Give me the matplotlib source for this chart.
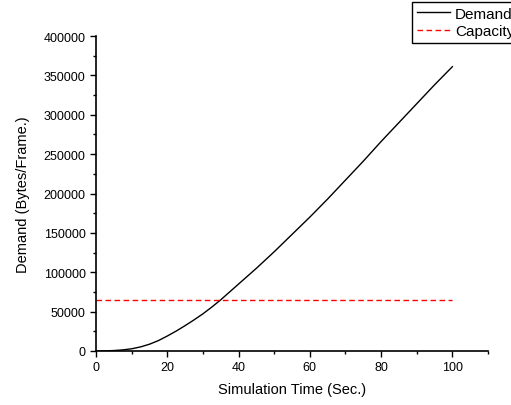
import matplotlib
matplotlib.use('Agg')
import matplotlib.pyplot as plt
from matplotlib.ticker import MultipleLocator

plt.rcParams['font.family'] = ['Liberation Sans', 'DejaVu Sans']

# 資料
time_sec = [0, 2.5, 5, 7.5, 10, 12.5, 15, 17.5, 20, 22.5, 25, 27.5, 30, 32.5, 35,
            40, 45, 50, 55, 60, 65, 70, 75, 80, 85, 90, 95, 100]
demand = [0, 150, 600, 1400, 2800, 5200, 8600, 13200, 19000, 25300, 32200, 39500, 47200,
          55800, 65000, 85000, 105000, 126000, 148000, 170000, 193000, 217000, 241000,
          266000, 290000, 314000, 338000, 361000]
capacity_x = [0, 100]
capacity = [65000, 65000]

fig = plt.figure(figsize=(5.11, 4.06), dpi=100)
ax = fig.add_axes([96 / 511, 54 / 406, 392 / 511, 315 / 406])

ax.plot(time_sec, demand, color='black', linewidth=1.0, label='Demand')
ax.plot(capacity_x, capacity, color='red', linestyle=(0, (4, 2.5)), linewidth=1.0, label='Capacity')

ax.set_xlim(0, 110)
ax.set_ylim(0, 400000)
ax.xaxis.set_major_locator(MultipleLocator(20))
ax.xaxis.set_minor_locator(MultipleLocator(10))
ax.yaxis.set_major_locator(MultipleLocator(50000))
ax.yaxis.set_minor_locator(MultipleLocator(25000))
ax.tick_params(which='both', direction='out', labelsize=9, width=1)
ax.tick_params(which='major', length=4)
ax.tick_params(which='minor', length=2.5)

for s in ['top', 'right']:
    ax.spines[s].set_visible(False)
for s in ['left', 'bottom']:
    ax.spines[s].set_linewidth(1.2)

ax.set_xlabel('Simulation Time (Sec.)', fontsize=10.5, labelpad=6)
ax.set_ylabel('Demand (Bytes/Frame.)', fontsize=10.5, labelpad=10)

leg = fig.legend(loc='upper left', bbox_to_anchor=(412 / 511, 1 - 3 / 406), fontsize=11,
                 frameon=True, fancybox=False, edgecolor='black', framealpha=1,
                 handlelength=2.2, handletextpad=0.3, borderpad=0.3, labelspacing=0.25,
                 borderaxespad=0)
leg.get_frame().set_linewidth(1.0)

fig.savefig('out.png', dpi=100, facecolor='white')
